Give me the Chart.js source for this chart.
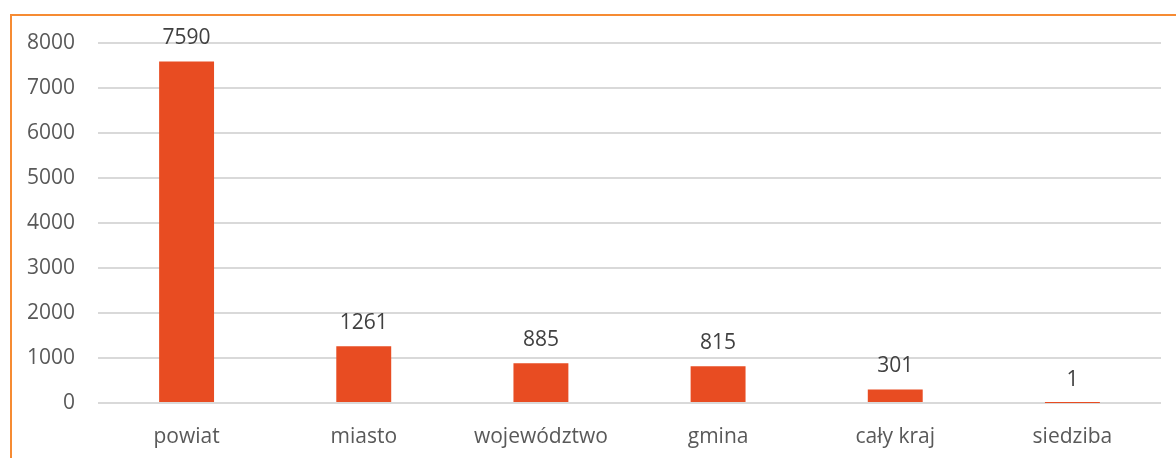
<!DOCTYPE html>
<html>
<head>
<meta charset="utf-8">
<script src="https://cdn.jsdelivr.net/npm/chart.js@4"></script>
<style>
  html, body { margin: 0; padding: 0; background: #fff; }
  #wrap { position: relative; width: 1176px; height: 458px; overflow: hidden; }
  #frame { position: absolute; left: 10px; top: 14px; width: 1300px; height: 600px; border: 2px solid #F68B33; box-sizing: border-box; }
  canvas { position: absolute; left: 0; top: 0; }
</style>
</head>
<body>
<div id="wrap">
  <div id="frame"></div>
  <canvas id="chart" width="1176" height="458"></canvas>
</div>
<script>
// Data
const categories = ['powiat', 'miasto', 'województwo', 'gmina', 'cały kraj', 'siedziba'];
const counts = [7590, 1261, 885, 815, 301, 1];
const yTicks = [0, 1000, 2000, 3000, 4000, 5000, 6000, 7000, 8000];

const FONT = '"Open Sans", sans-serif';

// Draw value labels above each bar
const valueLabels = {
    id: 'valueLabels',
    afterDatasetsDraw(chart) {
        const ctx = chart.ctx;
        const meta = chart.getDatasetMeta(0);
        ctx.save();
        ctx.fillStyle = '#404040';
        ctx.font = '21px ' + FONT;
        ctx.textAlign = 'center';
        ctx.textBaseline = 'middle';
        meta.data.forEach((bar, i) => {
            ctx.fillText(String(counts[i]), bar.x, bar.y - 23);
        });
        ctx.restore();
    }
};

const ctx = document.getElementById('chart').getContext('2d');
new Chart(ctx, {
    type: 'bar',
    data: {
        labels: categories,
        datasets: [{
            data: counts,
            backgroundColor: '#E84C22',
            borderWidth: 0,
            barPercentage: 0.62,
            categoryPercentage: 0.5
        }]
    },
    options: {
        responsive: false,
        animation: false,
        layout: { padding: { top: 43, right: 15, left: 0, bottom: 0 } },
        plugins: { legend: { display: false }, tooltip: { enabled: false } },
        scales: {
            x: {
                grid: { display: false, drawTicks: false },
                border: { display: false },
                ticks: { color: '#595959', font: { family: FONT, size: 21 }, padding: 21 },
                afterFit: s => { s.height = 55; }
            },
            y: {
                min: 0,
                max: 8000,
                afterBuildTicks: s => { s.ticks = yTicks.map(v => ({ value: v })); },
                grid: { color: '#D9D9D9', lineWidth: 2, drawTicks: false },
                border: { display: false },
                ticks: {
                    color: '#595959',
                    font: { family: FONT, size: 21 },
                    padding: 23,
                    callback: v => String(v)
                },
                afterFit: s => { s.width = 98; }
            }
        }
    },
    plugins: [valueLabels]
});
</script>
</body>
</html>
